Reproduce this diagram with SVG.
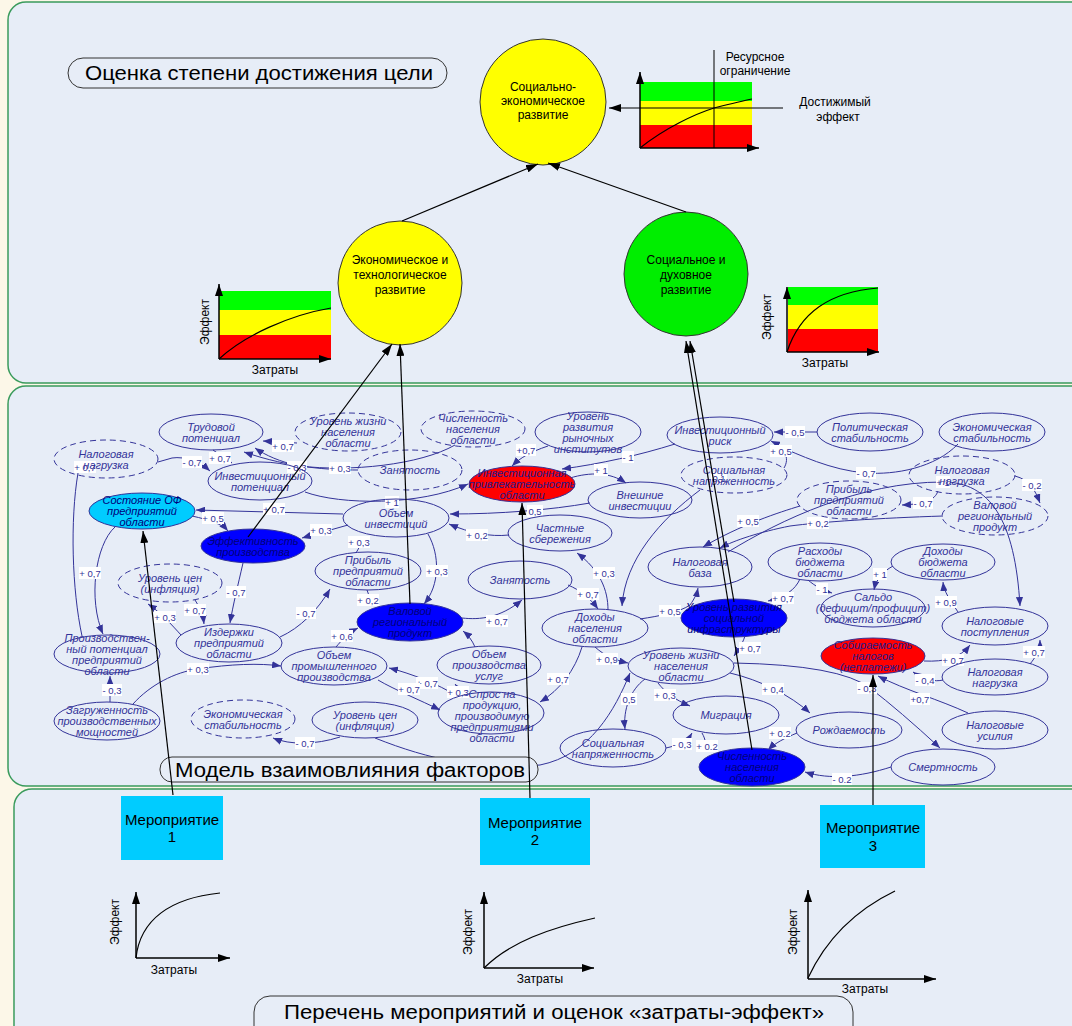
<svg xmlns="http://www.w3.org/2000/svg" width="1072" height="1026" viewBox="0 0 1072 1026">
<style>
.panel{fill:#e7edf7;stroke:#3a9b5c;stroke-width:1.5}
.pill{fill:#e7edf7;stroke:#333;stroke-width:1}
.n{fill:none;stroke:#333399;stroke-width:1}
.nd{stroke-dasharray:6 4}
.nb{fill:#0000ff}
.nr{fill:#ff0000}
.nc{fill:#00ccff}
.nt{font-family:"Liberation Sans Narrow","Liberation Sans",Arial,sans-serif;font-style:italic;font-size:11px;fill:#333399;text-anchor:middle}
.ntb{fill:#00007a}
.ntr{fill:#1c1c8c}
.c{fill:none;stroke:#333399;stroke-width:1;marker-end:url(#a)}
.cn{fill:none;stroke:#333399;stroke-width:1}
.k{fill:none;stroke:#000;stroke-width:1.2;marker-end:url(#b)}
.lb rect{fill:#fff}
.lb text{font-family:"Liberation Sans",Arial,sans-serif;font-size:9.5px;fill:#333399;text-anchor:middle}
.ct{font-family:"Liberation Sans",Arial,sans-serif;font-size:12px;fill:#000;text-anchor:middle}
.ax{fill:none;stroke:#000;stroke-width:1.5;marker-end:url(#x)}
.cv{fill:none;stroke:#000;stroke-width:1.2}
.box{fill:#00ccff}
.bt{font-family:"Liberation Sans Narrow","Liberation Sans",Arial,sans-serif;font-size:15px;fill:#000;text-anchor:middle}
.title{font-family:"Liberation Sans",Arial,sans-serif;font-size:20px;fill:#000;text-anchor:middle}
</style>
<defs>
<marker id="a" viewBox="0 0 10 8" refX="10" refY="4" markerWidth="9" markerHeight="7.2" orient="auto" markerUnits="userSpaceOnUse"><path d="M0,0 L10,4 L0,8 z" fill="#333399"/></marker>
<marker id="b" viewBox="0 0 12 8" refX="12" refY="4" markerWidth="12" markerHeight="8" orient="auto" markerUnits="userSpaceOnUse"><path d="M0,0 L12,4 L0,8 z" fill="#000"/></marker>
<marker id="x" viewBox="0 0 12 8" refX="12" refY="4" markerWidth="12" markerHeight="8" orient="auto" markerUnits="userSpaceOnUse"><path d="M0,0 L12,4 L0,8 z" fill="#000"/></marker>
</defs>
<rect x="0" y="0" width="1072" height="1026" fill="#fcf7e8"/>
<rect x="8" y="2" width="1080" height="381" rx="18" class="panel"/>
<rect x="8" y="386" width="1080" height="400" rx="18" class="panel"/>
<rect x="14" y="789" width="1080" height="262" rx="18" class="panel"/>

<!-- top section -->
<g id="title-top"><rect x="68" y="58" width="379" height="30" rx="15" class="pill"/><text x="259" y="80" class="title" font-size="21" textLength="348" lengthAdjust="spacingAndGlyphs">Оценка степени достижения цели</text></g>

<g id="chart-top">
<rect x="640" y="82" width="112" height="19" fill="#00ff00"/>
<rect x="640" y="101" width="112" height="24" fill="#ffff00"/>
<rect x="640" y="125" width="112" height="23" fill="#ff0000"/>
<path d="M640,148 C665,128 695,114 714,108 C730,104 742,101 752,99" class="cv"/>
<path d="M640,148 L640,72" class="ax"/>
<path d="M640,148 L759,148" class="ax"/>
<path d="M714,50 L714,148" stroke="#000" stroke-width="1"/>
<text class="ct" x="755" y="61">Ресурсное</text>
<text class="ct" x="755" y="75">ограничение</text>
<text class="ct" x="835" y="106">Достижимый</text>
<text class="ct" x="838" y="121">эффект</text>
</g>

<g id="chart-left">
<rect x="219" y="291" width="112" height="19" fill="#00ff00"/>
<rect x="219" y="310" width="112" height="25" fill="#ffff00"/>
<rect x="219" y="335" width="112" height="24" fill="#ff0000"/>
<path d="M219,359 C245,335 290,315 331,308" class="cv"/>
<path d="M219,359 L219,284" class="ax"/>
<path d="M219,359 L331,359" class="ax"/>
<text class="ct" x="275" y="374">Затраты</text>
<text class="ct" font-size="13" transform="translate(209,322) rotate(-90)">Эффект</text>
</g>

<g id="chart-right">
<rect x="788" y="287" width="90" height="18" fill="#00ff00"/>
<rect x="788" y="305" width="90" height="24" fill="#ffff00"/>
<rect x="788" y="329" width="90" height="23" fill="#ff0000"/>
<path d="M787,352 C800,312 830,292 878,288" class="cv"/>
<path d="M787,352 L787,287" class="ax"/>
<path d="M787,352 L879,352" class="ax"/>
<text class="ct" x="825" y="367">Затраты</text>
<text class="ct" font-size="13" transform="translate(771,317) rotate(-90)">Эффект</text>
</g>

<g id="goal"><circle cx="543" cy="102" r="63" fill="#ffff00" stroke="#333" stroke-width="1"/>
<text class="ct" x="543" y="91">Социально-</text><text class="ct" x="543" y="105">экономическое</text><text class="ct" x="543" y="119">развитие</text></g>
<g id="econ"><circle cx="400" cy="283" r="62" fill="#ffff00" stroke="#333" stroke-width="1"/>
<text class="ct" x="400" y="264">Экономическое и</text><text class="ct" x="400" y="279">технологическое</text><text class="ct" x="400" y="294">развитие</text></g>
<g id="social"><circle cx="686" cy="274" r="62" fill="#00ee00" stroke="#333" stroke-width="1"/>
<text class="ct" x="686" y="264">Социальное и</text><text class="ct" x="686" y="279">духовное</text><text class="ct" x="686" y="294">развитие</text></g>

<!-- middle section connectors -->
<g id="connectors">
<path class="c" d="M158,462 L172,458 C185,456 200,462 210,471"/>
<path class="c" d="M213,450 L232,463"/>
<path class="c" d="M297,443 L263,441"/>
<path class="c" d="M455,445 C420,465 350,472 300,466 C280,462 265,455 255,448"/>
<path class="c" d="M358,470 C330,470 290,468 244,452"/>
<path class="c" d="M305,492 C340,505 420,506 468,484"/>
<path class="c" d="M343,514 L196,510"/>
<path class="c" d="M192,516 C210,520 222,524 228,531"/>
<path class="c" d="M348,525 L302,538"/>
<path class="c" d="M356,553 L365,537"/>
<path class="c" d="M428,534 C440,555 440,585 424,604"/>
<path class="c" d="M509,535 C490,537 470,533 449,524"/>
<path class="c" d="M590,503 C550,510 500,514 450,514"/>
<path class="c" d="M570,478 C590,472 610,472 626,483"/>
<path class="c" d="M675,444 C640,455 600,464 562,469"/>
<path class="c" d="M548,446 C530,452 520,458 512,466"/>
<path class="c" d="M817,432 L774,432"/>
<path class="c" d="M784,468 C790,458 785,448 771,441"/>
<path class="c" d="M958,444 C935,468 895,475 866,473 C830,470 800,455 776,445"/>
<path class="c" d="M938,491 C935,500 925,504 902,505"/>
<path class="c" d="M1015,476 C1030,480 1035,490 1040,503"/>
<path class="c" d="M800,506 C780,512 740,525 703,547"/>
<path class="c" d="M943,516 C880,518 820,522 790,526 C760,532 735,540 720,548"/>
<path class="c" d="M728,552 C780,520 860,482 943,482 C990,482 1015,520 1020,606"/>
<path class="c" d="M958,612 C950,600 944,592 943,582"/>
<path class="c" d="M893,566 C882,572 876,580 874,590"/>
<path class="c" d="M808,580 C815,586 822,590 832,593"/>
<path class="c" d="M800,579 C795,590 785,597 768,601"/>
<path class="c" d="M745,636 C742,645 738,650 734,656"/>
<path class="c" d="M640,619 C660,616 680,612 690,605 C695,598 697,593 698,588"/>
<path class="c" d="M608,610 C608,590 600,570 577,553"/>
<path class="c" d="M568,585 C580,590 590,598 598,609"/>
<path class="c" d="M700,490 C660,520 625,560 622,606"/>
<path class="c" d="M595,647 C605,656 615,660 628,663"/>
<path class="c" d="M582,647 C575,670 560,690 540,702"/>
<path class="c" d="M645,679 C630,690 623,710 625,729"/>
<path class="c" d="M375,738 C430,760 480,770 540,765 C590,755 615,710 630,673"/>
<path class="c" d="M658,683 C665,692 675,700 690,706"/>
<path class="c" d="M666,748 C680,745 688,740 692,733"/>
<path class="c" d="M702,733 C706,740 706,745 705,749"/>
<path class="c" d="M797,733 C785,738 775,743 768,750"/>
<path class="c" d="M891,767 C860,777 830,780 805,772"/>
<path class="c" d="M730,673 C760,680 790,695 810,713"/>
<path class="c" d="M734,663 Q840,665 870,688 T940,748"/>
<path class="c" d="M943,680 C935,682 925,680 913,672"/>
<path class="c" d="M968,713 C940,700 905,690 878,676"/>
<path class="c" d="M924,661 C945,662 960,658 970,645"/>
<path class="c" d="M1030,664 C1035,658 1040,650 1040,640"/>
<path class="cn" d="M78,473 C70,520 72,590 82,636"/>
<path class="c" d="M115,527 C95,545 88,600 103,634"/>
<path class="c" d="M110,702 L110,676"/>
<path class="c" d="M133,704 C150,685 175,672 198,669 C230,664 260,663 281,666"/>
<path class="c" d="M181,635 C172,625 160,612 148,604"/>
<path class="c" d="M195,600 C200,608 203,615 204,624"/>
<path class="c" d="M243,563 C238,585 233,605 230,623"/>
<path class="c" d="M280,637 C300,628 318,610 330,589"/>
<path class="c" d="M336,647 C342,640 348,633 358,628"/>
<path class="cn" d="M367,590 L372,604"/>
<path class="c" d="M462,618 C480,620 500,618 522,600"/>
<path class="c" d="M475,647 C472,640 468,635 463,631"/>
<path class="c" d="M455,695 C440,685 410,673 389,668"/>
<path class="c" d="M378,680 C395,690 420,700 440,710"/>
<path class="c" d="M470,694 C462,690 458,688 455,684"/>
<path class="c" d="M340,737 C315,745 290,745 273,738"/>

<g class="lb">
<rect x="74" y="461" width="22" height="12"/><text x="85" y="470.5">+ 0,7</text>
<rect x="182" y="456" width="20" height="12"/><text x="192" y="465.5">- 0,7</text>
<rect x="209" y="452" width="22" height="12"/><text x="220" y="461.5">+ 0,7</text>
<rect x="272" y="440" width="22" height="12"/><text x="283" y="449.5">+ 0,7</text>
<rect x="287" y="461" width="20" height="12"/><text x="297" y="470.5">- 0,3</text>
<rect x="329" y="462" width="22" height="12"/><text x="340" y="471.5">+ 0,3</text>
<rect x="385" y="496" width="14" height="12"/><text x="392" y="505.5">+ 1</text>
<rect x="263" y="503" width="22" height="12"/><text x="274" y="512.5">+ 0,7</text>
<rect x="202" y="512" width="22" height="12"/><text x="213" y="521.5">+ 0,5</text>
<rect x="310" y="524" width="22" height="12"/><text x="321" y="533.5">+ 0,3</text>
<rect x="348" y="536" width="22" height="12"/><text x="359" y="545.5">+ 0,3</text>
<rect x="426" y="565" width="22" height="12"/><text x="437" y="574.5">+ 0,3</text>
<rect x="466" y="529" width="22" height="12"/><text x="477" y="538.5">+ 0,2</text>
<rect x="527" y="505" width="16" height="12"/><text x="535" y="514.5">0,5</text>
<rect x="516" y="444" width="20" height="12"/><text x="526" y="453.5">+0,7</text>
<rect x="594" y="464" width="14" height="12"/><text x="601" y="473.5">+ 1</text>
<rect x="622" y="451" width="12" height="12"/><text x="628" y="460.5">- 1</text>
<rect x="711" y="472" width="16" height="12"/><text x="719" y="481.5">0,1</text>
<rect x="770" y="445" width="22" height="12"/><text x="781" y="454.5">+ 0,5</text>
<rect x="785" y="426" width="20" height="12"/><text x="795" y="435.5">- 0,5</text>
<rect x="856" y="467" width="20" height="12"/><text x="866" y="476.5">- 0,7</text>
<rect x="936" y="476" width="14" height="12"/><text x="943" y="485.5">+ 1</text>
<rect x="913" y="497" width="20" height="12"/><text x="923" y="506.5">- 0,7</text>
<rect x="1022" y="479" width="20" height="12"/><text x="1032" y="488.5">- 0,2</text>
<rect x="807" y="517" width="22" height="12"/><text x="818" y="526.5">+ 0,2</text>
<rect x="737" y="515" width="22" height="12"/><text x="748" y="524.5">+ 0,5</text>
<rect x="873" y="568" width="14" height="12"/><text x="880" y="577.5">+ 1</text>
<rect x="816" y="583" width="12" height="12"/><text x="822" y="592.5">- 1</text>
<rect x="935" y="596" width="22" height="12"/><text x="946" y="605.5">+ 0,9</text>
<rect x="79" y="567" width="22" height="12"/><text x="90" y="576.5">+ 0,7</text>
<rect x="226" y="586" width="20" height="12"/><text x="236" y="595.5">- 0,7</text>
<rect x="154" y="611" width="22" height="12"/><text x="165" y="620.5">+ 0,3</text>
<rect x="184" y="604" width="22" height="12"/><text x="195" y="613.5">+ 0,7</text>
<rect x="296" y="607" width="20" height="12"/><text x="306" y="616.5">- 0,7</text>
<rect x="187" y="663" width="22" height="12"/><text x="198" y="672.5">+ 0,3</text>
<rect x="102" y="684" width="20" height="12"/><text x="112" y="693.5">- 0,3</text>
<rect x="357" y="594" width="22" height="12"/><text x="368" y="603.5">+ 0,2</text>
<rect x="331" y="630" width="22" height="12"/><text x="342" y="639.5">+ 0,6</text>
<rect x="486" y="615" width="22" height="12"/><text x="497" y="624.5">+ 0,7</text>
<rect x="416" y="677" width="22" height="12"/><text x="427" y="686.5">+ 0,7</text>
<rect x="398" y="683" width="22" height="12"/><text x="409" y="692.5">+ 0,7</text>
<rect x="447" y="686" width="22" height="12"/><text x="458" y="695.5">+ 0,3</text>
<rect x="295" y="737" width="20" height="12"/><text x="305" y="746.5">- 0,7</text>
<rect x="593" y="567" width="22" height="12"/><text x="604" y="576.5">+ 0,3</text>
<rect x="577" y="588" width="22" height="12"/><text x="588" y="597.5">+ 0,7</text>
<rect x="659" y="605" width="22" height="12"/><text x="670" y="614.5">+ 0,5</text>
<rect x="772" y="592" width="22" height="12"/><text x="783" y="601.5">+ 0,7</text>
<rect x="739" y="642" width="22" height="12"/><text x="750" y="651.5">+ 0,7</text>
<rect x="596" y="653" width="22" height="12"/><text x="607" y="662.5">+ 0,9</text>
<rect x="547" y="673" width="22" height="12"/><text x="558" y="682.5">+ 0,7</text>
<rect x="621" y="693" width="16" height="12"/><text x="629" y="702.5">0,5</text>
<rect x="654" y="689" width="22" height="12"/><text x="665" y="698.5">+ 0,3</text>
<rect x="762" y="683" width="22" height="12"/><text x="773" y="692.5">+ 0,4</text>
<rect x="672" y="738" width="20" height="12"/><text x="682" y="747.5">- 0,3</text>
<rect x="696" y="740" width="22" height="12"/><text x="707" y="749.5">+ 0.2</text>
<rect x="769" y="727" width="22" height="12"/><text x="780" y="736.5">+ 0.2</text>
<rect x="832" y="773" width="20" height="12"/><text x="842" y="782.5">- 0.2</text>
<rect x="857" y="682" width="20" height="12"/><text x="867" y="691.5">- 0,3</text>
<rect x="915" y="674" width="20" height="12"/><text x="925" y="683.5">- 0,4</text>
<rect x="910" y="693" width="20" height="12"/><text x="920" y="702.5">+0,7</text>
<rect x="942" y="654" width="22" height="12"/><text x="953" y="663.5">+ 0,7</text>
<rect x="1023" y="646" width="22" height="12"/><text x="1034" y="655.5">+ 0,7</text>
</g>
</g>

<!-- nodes -->
<g id="n-trud"><ellipse cx="211" cy="432" rx="52" ry="18" class="n"/><text class="nt"><tspan x="211" y="430.5">Трудовой</tspan><tspan x="211" y="441.5">потенциал</tspan></text></g>
<g id="n-nalog1"><ellipse cx="106" cy="459" rx="52" ry="19" class="n nd"/><text class="nt"><tspan x="106" y="457.5">Налоговая</tspan><tspan x="106" y="468.5">нагрузка</tspan></text></g>
<g id="n-invpot"><ellipse cx="260" cy="481" rx="52" ry="19" class="n"/><text class="nt"><tspan x="260" y="479.5">Инвестиционный</tspan><tspan x="260" y="490.5">потенциал</tspan></text></g>
<g id="n-sostof"><ellipse cx="142" cy="511" rx="53" ry="18" class="n nc"/><text class="nt ntb"><tspan x="142" y="504">Состояние ОФ</tspan><tspan x="142" y="515">предприятий</tspan><tspan x="142" y="526">области</tspan></text></g>
<g id="n-eff"><ellipse cx="253" cy="546" rx="52" ry="17" class="n nb"/><text class="nt ntb"><tspan x="253" y="544.5">Эффективность</tspan><tspan x="253" y="555.5">производства</tspan></text></g>
<g id="n-cen1"><ellipse cx="170" cy="583" rx="52" ry="19" class="n nd"/><text class="nt"><tspan x="170" y="581.5">Уровень цен</tspan><tspan x="170" y="592.5">(инфляция)</tspan></text></g>
<g id="n-urzh1"><ellipse cx="348" cy="432" rx="53" ry="19" class="n nd"/><text class="nt"><tspan x="348" y="425">Уровень жизни</tspan><tspan x="348" y="436">населения</tspan><tspan x="348" y="447">области</tspan></text></g>
<g id="n-chisl1"><ellipse cx="473" cy="429" rx="52" ry="18" class="n nd"/><text class="nt"><tspan x="473" y="422">Численность</tspan><tspan x="473" y="433">населения</tspan><tspan x="473" y="444">области</tspan></text></g>
<g id="n-zan1"><ellipse cx="410" cy="470" rx="52" ry="20" class="n nd"/><text class="nt" x="410" y="474">Занятость</text></g>
<g id="n-invpriv"><ellipse cx="522" cy="484" rx="53" ry="18" class="n nr"/><text class="nt ntr"><tspan x="522" y="477">Инвестиционная</tspan><tspan x="522" y="488">привлекательность</tspan><tspan x="522" y="499">области</tspan></text></g>
<g id="n-obinv"><ellipse cx="396" cy="518" rx="53" ry="19" class="n"/><text class="nt"><tspan x="396" y="516.5">Объем</tspan><tspan x="396" y="527.5">инвестиций</tspan></text></g>
<g id="n-prib1"><ellipse cx="368" cy="571" rx="53" ry="19" class="n"/><text class="nt"><tspan x="368" y="564">Прибыль</tspan><tspan x="368" y="575">предприятий</tspan><tspan x="368" y="586">области</tspan></text></g>
<g id="n-chast"><ellipse cx="560" cy="533" rx="52" ry="18" class="n"/><text class="nt"><tspan x="560" y="531.5">Частные</tspan><tspan x="560" y="542.5">сбережения</tspan></text></g>
<g id="n-zan2"><ellipse cx="520" cy="580" rx="52" ry="19" class="n"/><text class="nt" x="520" y="584">Занятость</text></g>
<g id="n-rynok"><ellipse cx="588" cy="432" rx="53" ry="20" class="n"/><text class="nt"><tspan x="588" y="419.5">Уровень</tspan><tspan x="588" y="430.5">развития</tspan><tspan x="588" y="441.5">рыночных</tspan><tspan x="588" y="452.5">институтов</tspan></text></g>
<g id="n-invrisk"><ellipse cx="720" cy="435" rx="53" ry="18" class="n"/><text class="nt"><tspan x="720" y="433.5">Инвестиционный</tspan><tspan x="720" y="444.5">риск</tspan></text></g>
<g id="n-socnapr1"><ellipse cx="734" cy="475" rx="53" ry="18" class="n nd"/><text class="nt"><tspan x="734" y="473.5">Социальная</tspan><tspan x="734" y="484.5">напряженность</tspan></text></g>
<g id="n-vnesh"><ellipse cx="640" cy="500" rx="52" ry="18" class="n"/><text class="nt"><tspan x="640" y="498.5">Внешние</tspan><tspan x="640" y="509.5">инвестиции</tspan></text></g>
<g id="n-nalbaza"><ellipse cx="700" cy="567" rx="52" ry="20" class="n"/><text class="nt"><tspan x="700" y="565.5">Налоговая</tspan><tspan x="700" y="576.5">база</tspan></text></g>
<g id="n-polit"><ellipse cx="870" cy="432" rx="53" ry="19" class="n"/><text class="nt"><tspan x="870" y="430.5">Политическая</tspan><tspan x="870" y="441.5">стабильность</tspan></text></g>
<g id="n-econstab1"><ellipse cx="992" cy="432" rx="53" ry="19" class="n"/><text class="nt"><tspan x="992" y="430.5">Экономическая</tspan><tspan x="992" y="441.5">стабильность</tspan></text></g>
<g id="n-nalog2"><ellipse cx="962" cy="475" rx="53" ry="19" class="n nd"/><text class="nt"><tspan x="962" y="473.5">Налоговая</tspan><tspan x="962" y="484.5">нагрузка</tspan></text></g>
<g id="n-prib2"><ellipse cx="849" cy="500" rx="52" ry="19" class="n nd"/><text class="nt"><tspan x="849" y="493">Прибыль</tspan><tspan x="849" y="504">предприятий</tspan><tspan x="849" y="515">области</tspan></text></g>
<g id="n-vrp2"><ellipse cx="995" cy="516" rx="53" ry="19" class="n nd"/><text class="nt"><tspan x="995" y="509">Валовой</tspan><tspan x="995" y="520">региональный</tspan><tspan x="995" y="531">продукт</tspan></text></g>
<g id="n-rashod"><ellipse cx="820" cy="562" rx="52" ry="19" class="n"/><text class="nt"><tspan x="820" y="555">Расходы</tspan><tspan x="820" y="566">бюджета</tspan><tspan x="820" y="577">области</tspan></text></g>
<g id="n-dohbud"><ellipse cx="943" cy="562" rx="52" ry="18" class="n"/><text class="nt"><tspan x="943" y="555">Доходы</tspan><tspan x="943" y="566">бюджета</tspan><tspan x="943" y="577">области</tspan></text></g>
<g id="n-proizpot"><ellipse cx="107" cy="654" rx="53" ry="19" class="n"/><text class="nt"><tspan x="107" y="641.5">Производствен-</tspan><tspan x="107" y="652.5">ный потенциал</tspan><tspan x="107" y="663.5">предприятий</tspan><tspan x="107" y="674.5">области</tspan></text></g>
<g id="n-zagr"><ellipse cx="107" cy="721" rx="53" ry="19" class="n"/><text class="nt"><tspan x="107" y="714">Загруженность</tspan><tspan x="107" y="725">производственных</tspan><tspan x="107" y="736">мощностей</tspan></text></g>
<g id="n-izderzh"><ellipse cx="229" cy="643" rx="53" ry="19" class="n"/><text class="nt"><tspan x="229" y="636">Издержки</tspan><tspan x="229" y="647">предприятий</tspan><tspan x="229" y="658">области</tspan></text></g>
<g id="n-econstab2"><ellipse cx="243" cy="719" rx="52" ry="19" class="n nd"/><text class="nt"><tspan x="243" y="717.5">Экономическая</tspan><tspan x="243" y="728.5">стабильность</tspan></text></g>
<g id="n-vrp1"><ellipse cx="410" cy="622" rx="53" ry="19" class="n nb"/><text class="nt ntb"><tspan x="410" y="615">Валовой</tspan><tspan x="410" y="626">региональный</tspan><tspan x="410" y="637">продукт</tspan></text></g>
<g id="n-prompr"><ellipse cx="334" cy="666" rx="53" ry="19" class="n"/><text class="nt"><tspan x="334" y="659">Объем</tspan><tspan x="334" y="670">промышленного</tspan><tspan x="334" y="681">производства</tspan></text></g>
<g id="n-uslugi"><ellipse cx="489" cy="665" rx="52" ry="19" class="n"/><text class="nt"><tspan x="489" y="658">Объем</tspan><tspan x="489" y="669">производства</tspan><tspan x="489" y="680">услуг</tspan></text></g>
<g id="n-spros"><ellipse cx="491" cy="713" rx="53" ry="21" class="n"/><text class="nt"><tspan x="492" y="698">Спрос на</tspan><tspan x="492" y="709">продукцию,</tspan><tspan x="492" y="720">производимую</tspan><tspan x="492" y="731">предприятиями</tspan><tspan x="492" y="742">области</tspan></text></g>
<g id="n-cen2"><ellipse cx="365" cy="720" rx="53" ry="18" class="n"/><text class="nt"><tspan x="365" y="718.5">Уровень цен</tspan><tspan x="365" y="729.5">(инфляция)</tspan></text></g>
<g id="n-dohnas"><ellipse cx="595" cy="628" rx="53" ry="19" class="n"/><text class="nt"><tspan x="595" y="621">Доходы</tspan><tspan x="595" y="632">населения</tspan><tspan x="595" y="643">области</tspan></text></g>
<g id="n-socinfra"><ellipse cx="734" cy="618" rx="53" ry="19" class="n nb"/><text class="nt ntb"><tspan x="734" y="611">Уровень развития</tspan><tspan x="734" y="622">социальной</tspan><tspan x="734" y="633">инфраструктуры</tspan></text></g>
<g id="n-urzh2"><ellipse cx="681" cy="666" rx="53" ry="18" class="n"/><text class="nt"><tspan x="681" y="659">Уровень жизни</tspan><tspan x="681" y="670">населения</tspan><tspan x="681" y="681">области</tspan></text></g>
<g id="n-migr"><ellipse cx="726" cy="715" rx="53" ry="19" class="n"/><text class="nt" x="726" y="719">Миграция</text></g>
<g id="n-socnapr2"><ellipse cx="613" cy="748" rx="53" ry="19" class="n"/><text class="nt"><tspan x="613" y="746.5">Социальная</tspan><tspan x="613" y="757.5">напряженность</tspan></text></g>
<g id="n-chisl2"><ellipse cx="752" cy="767" rx="53" ry="19" class="n nb"/><text class="nt ntb"><tspan x="752" y="760">Численность</tspan><tspan x="752" y="771">населения</tspan><tspan x="752" y="782">области</tspan></text></g>
<g id="n-saldo"><ellipse cx="873" cy="608" rx="52" ry="19" class="n"/><text class="nt"><tspan x="873" y="601">Сальдо</tspan><tspan x="873" y="612">(дефицит/профицит)</tspan><tspan x="873" y="623">бюджета  области</tspan></text></g>
<g id="n-nalpost"><ellipse cx="995" cy="626" rx="53" ry="19" class="n"/><text class="nt"><tspan x="995" y="624.5">Налоговые</tspan><tspan x="995" y="635.5">поступления</tspan></text></g>
<g id="n-sobir"><ellipse cx="873" cy="656" rx="52" ry="18" class="n nr"/><text class="nt ntr"><tspan x="873" y="649">Собираемость</tspan><tspan x="873" y="660">налогов</tspan><tspan x="873" y="671">(неплатежи)</tspan></text></g>
<g id="n-nalog3"><ellipse cx="995" cy="677" rx="53" ry="18" class="n"/><text class="nt"><tspan x="995" y="675.5">Налоговая</tspan><tspan x="995" y="686.5">нагрузка</tspan></text></g>
<g id="n-rozhd"><ellipse cx="849" cy="730" rx="53" ry="18" class="n"/><text class="nt" x="849" y="734">Рождаемость</text></g>
<g id="n-nalus"><ellipse cx="995" cy="730" rx="53" ry="19" class="n"/><text class="nt"><tspan x="995" y="728.5">Налоговые</tspan><tspan x="995" y="739.5">усилия</tspan></text></g>
<g id="n-smert"><ellipse cx="943" cy="767" rx="52" ry="18" class="n"/><text class="nt" x="943" y="771">Смертность</text></g>

<g id="title-mid"><rect x="160" y="757" width="378" height="25" rx="12" class="pill"/><text x="350" y="777" class="title" font-size="21" textLength="350" lengthAdjust="spacingAndGlyphs">Модель взаимовлияния факторов</text></g>

<!-- bottom section -->
<g id="m1"><rect x="121" y="796" width="102" height="64" class="box"/><text class="bt" x="172" y="825">Мероприятие</text><text class="bt" x="172" y="842">1</text></g>
<g id="m2"><rect x="480" y="798" width="110" height="67" class="box"/><text class="bt" x="535" y="828">Мероприятие</text><text class="bt" x="535" y="845">2</text></g>
<g id="m3"><rect x="820" y="805" width="105" height="63" class="box"/><text class="bt" x="873" y="833">Мероприятие</text><text class="bt" x="873" y="851">3</text></g>

<g id="black-links">
<path class="k" d="M173,795 L143,531"/>
<path class="k" d="M248,537 L392,344"/>
<path class="k" d="M410,604 L400,344"/>
<path class="k" d="M530,798 L522,503"/>
<path class="k" d="M752,750 L686,341"/>
<path class="k" d="M734,602 L690,341"/>
<path class="k" d="M873,805 L873,675"/>
<path class="k" d="M402,221 L538,164"/>
<path class="k" d="M686,212 L548,163"/>
<path class="k" d="M783,108 L609,108"/>
</g>

<g id="chart-m1">
<path d="M136,958 C140,920 170,898 220,893" class="cv" stroke-width="1.5"/>
<path d="M136,958 L136,892" class="ax"/>
<path d="M136,958 L230,958" class="ax"/>
<text class="ct" x="174" y="974">Затраты</text>
<text class="ct" transform="translate(119,922) rotate(-90)">Эффект</text>
</g>
<g id="chart-m2">
<path d="M484,968 C510,942 550,928 595,918" class="cv" stroke-width="1.5"/>
<path d="M484,968 L484,892" class="ax"/>
<path d="M484,968 L594,968" class="ax"/>
<text class="ct" x="540" y="983">Затраты</text>
<text class="ct" transform="translate(472,932) rotate(-90)">Эффект</text>
</g>
<g id="chart-m3">
<path d="M808,978 Q835,920 895,891" class="cv" stroke-width="1.5"/>
<path d="M808,979 L808,890" class="ax"/>
<path d="M808,979 L936,979" class="ax"/>
<text class="ct" x="865" y="993">Затраты</text>
<text class="ct" transform="translate(797,932) rotate(-90)">Эффект</text>
</g>

<g id="title-bottom"><rect x="254" y="996" width="599" height="46" rx="16" class="pill"/><text x="554" y="1019" class="title" textLength="540" lengthAdjust="spacingAndGlyphs">Перечень мероприятий и оценок «затраты-эффект»</text></g>
</svg>
